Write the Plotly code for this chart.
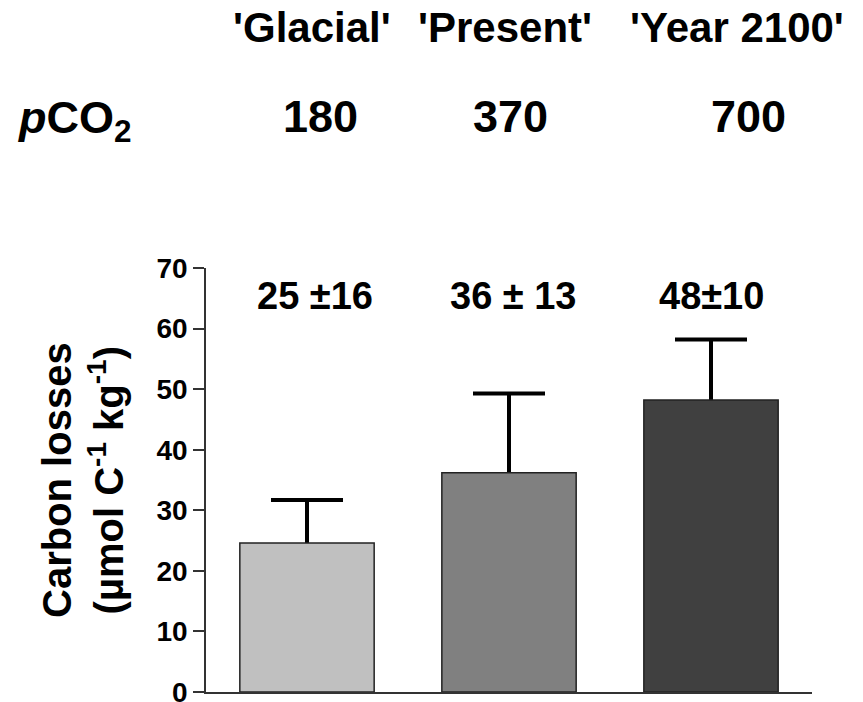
import plotly.graph_objects as go

# ---- data ----
categories = ["Glacial", "Present", "Year 2100"]
period_labels = ["'Glacial'", "'Present'", "'Year 2100'"]
pco2_values = ["180", "370", "700"]
carbon_losses = [24.6, 36.2, 48.2]
error_up = [7.1, 13.1, 10.0]
value_labels = ["25 ±16", "36 ± 13", "48±10"]
bar_colors = ["#c0c0c0", "#808080", "#404040"]
y_ticks = [0, 10, 20, 30, 40, 50, 60, 70]

FONT = "Liberation Sans, Arial, sans-serif"
W, H = 863, 702
ML, MR, MT, MB = 206, 51, 268, 10
PW = W - ML - MR
PH = H - MT - MB


def px_to_paper_x(px):
    return (px - ML) / PW


def px_to_paper_y(py):
    return (H - MB - py) / PH


fig = go.Figure()

# error bars (symmetric, lower half hidden behind the bars drawn afterwards)
fig.add_trace(go.Bar(
    x=categories, y=carbon_losses, width=0.665,
    marker=dict(color="rgba(0,0,0,0)", line=dict(width=0)),
    error_y=dict(type="data", array=error_up, symmetric=True,
                 color="black", thickness=4, width=36),
    showlegend=False, hoverinfo="skip",
))
# bars
fig.add_trace(go.Bar(
    x=categories, y=carbon_losses, width=0.665,
    marker=dict(color=bar_colors, line=dict(color="#222222", width=1.5)),
    showlegend=False,
))

annotations = []
# value labels above bars
label_shift = [8, 4, 0]
for cat, lab, sh in zip(categories, value_labels, label_shift):
    annotations.append(dict(
        x=cat, y=65.4, xref="x", yref="y", text=f"<b>{lab}</b>",
        showarrow=False, xanchor="center", yanchor="middle", xshift=sh,
        font=dict(family=FONT, size=38, color="black"),
    ))

# period labels row
period_px = [312, 505, 737]
for lab, px in zip(period_labels, period_px):
    annotations.append(dict(
        x=px_to_paper_x(px), y=px_to_paper_y(28), xref="paper", yref="paper",
        text=f"<b>{lab}</b>", showarrow=False, xanchor="center", yanchor="middle",
        font=dict(family=FONT, size=42, color="black"),
    ))

# pCO2 row
annotations.append(dict(
    x=px_to_paper_x(16), y=px_to_paper_y(120), xref="paper", yref="paper",
    text="<b><i>p</i>CO<sub>2</sub></b>", showarrow=False, xanchor="left", yanchor="middle",
    font=dict(family=FONT, size=45, color="black"),
))
pco2_px = [320, 510, 748]
for lab, px in zip(pco2_values, pco2_px):
    annotations.append(dict(
        x=px_to_paper_x(px), y=px_to_paper_y(116), xref="paper", yref="paper",
        text=f"<b>{lab}</b>", showarrow=False, xanchor="center", yanchor="middle",
        font=dict(family=FONT, size=45, color="black"),
    ))

# y-axis title
annotations.append(dict(
    x=px_to_paper_x(83), y=0.5, xref="paper", yref="paper",
    text="<b>Carbon losses<br>(µmol C<sup>-1</sup> kg<sup>-1</sup>)</b>",
    showarrow=False, textangle=-90, xanchor="center", yanchor="middle",
    font=dict(family=FONT, size=40, color="black"),
))

fig.update_layout(
    width=W, height=H,
    margin=dict(l=ML, r=MR, t=MT, b=MB, autoexpand=False),
    paper_bgcolor="white", plot_bgcolor="white",
    barmode="overlay",
    annotations=annotations,
    xaxis=dict(
        type="category", range=[-0.5, 2.5], automargin=False,
        showline=True, linecolor="#333333", linewidth=2,
        showticklabels=False, ticks="", showgrid=False, zeroline=False,
    ),
    yaxis=dict(
        range=[0, 70], tickvals=y_ticks, automargin=False,
        showline=True, linecolor="#333333", linewidth=1.5,
        ticks="outside", ticklen=11, tickwidth=1.5, tickcolor="#333333",
        showgrid=False, zeroline=False, ticklabeloverflow="allow",
        tickfont=dict(family=FONT, size=28, color="black", weight="bold"),
    ),
)

fig.write_html(
    "out.html",
    config={"displayModeBar": False},
    post_script="document.body.style.margin='0';document.body.style.overflow='hidden';",
)
